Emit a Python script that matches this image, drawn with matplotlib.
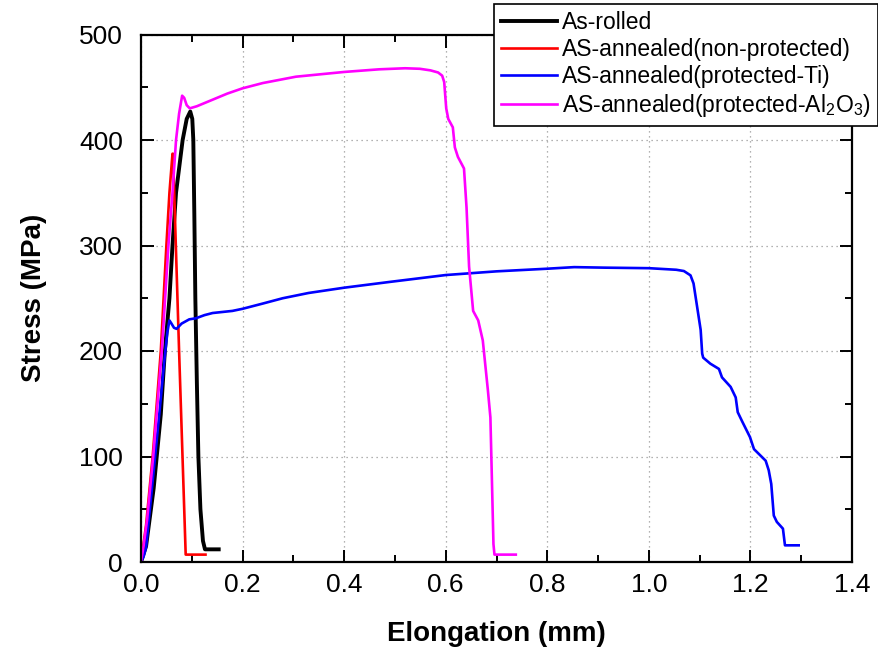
import matplotlib
matplotlib.use("Agg")
import matplotlib.pyplot as plt
from matplotlib.ticker import MultipleLocator

plt.rcParams['font.family'] = ['Liberation Sans', 'DejaVu Sans']
plt.rcParams['mathtext.fontset'] = 'custom'
plt.rcParams['mathtext.rm'] = 'Liberation Sans'

# ---- data ----
labels = ["As-rolled", "AS-annealed(non-protected)", "AS-annealed(protected-Ti)",
          r"AS-annealed(protected-Al$_\mathregular{2}$O$_\mathregular{3}$)"]
colors = ["#000000", "#ff0000", "#0000ff", "#ff00ff"]

rolled_x = [0, 0.010, 0.025, 0.039, 0.047, 0.056, 0.062, 0.069, 0.082, 0.090, 0.097,
            0.101, 0.103, 0.105, 0.107, 0.110, 0.113, 0.117, 0.122, 0.126, 0.153]
rolled_y = [0, 15, 70, 140, 200, 250, 300, 350, 400, 420, 427,
            420, 400, 330, 250, 170, 100, 50, 20, 12, 12]

nonprot_x = [0, 0.010, 0.023, 0.039, 0.050, 0.056, 0.062, 0.063, 0.075, 0.088, 0.127]
nonprot_y = [0, 35, 100, 200, 300, 350, 387, 387, 200, 7, 7]

ti_x = [0, 0.005, 0.010, 0.023, 0.036, 0.046, 0.052, 0.056, 0.060, 0.065, 0.070,
        0.080, 0.095, 0.108, 0.125, 0.141, 0.180, 0.200, 0.240, 0.279, 0.330,
        0.400, 0.490, 0.600, 0.700, 0.800, 0.853, 0.913, 1.000, 1.054, 1.069,
        1.082, 1.088, 1.095, 1.102, 1.105, 1.107, 1.121, 1.138, 1.144, 1.161,
        1.171, 1.175, 1.184, 1.199, 1.207, 1.230, 1.236, 1.241, 1.246, 1.252,
        1.264, 1.268, 1.295]
ti_y = [0, 5, 14, 77, 140, 191, 218, 229, 226, 222, 221,
        226, 230, 231, 234, 236, 238, 240, 245, 250, 255,
        260, 265.5, 272, 275.5, 278, 279.5, 279, 278.5, 277, 275.8,
        271.7, 264, 242, 220, 197.5, 193.7, 188, 183, 175, 166,
        156, 142, 133, 118.5, 107, 96, 87, 74, 44, 38,
        31.6, 15.8, 15.8]

al_x = [0, 0.005, 0.012, 0.024, 0.041, 0.054, 0.062, 0.069, 0.075, 0.081, 0.085,
        0.090, 0.096, 0.110, 0.135, 0.170, 0.200, 0.240, 0.305, 0.400, 0.469,
        0.520, 0.549, 0.570, 0.585, 0.593, 0.597, 0.601, 0.605, 0.614, 0.618,
        0.624, 0.636, 0.641, 0.646, 0.654, 0.664, 0.673, 0.683, 0.688, 0.694,
        0.696, 0.738]
al_y = [0, 15, 40, 100, 200, 300, 350, 400, 425, 442, 440,
        433, 430, 432, 437, 444, 449, 454, 460, 464.5, 467,
        468, 467.5, 466, 464, 461, 455, 430, 420, 412, 393,
        384, 373, 336, 280, 238, 229, 210, 163, 137, 17,
        7, 7]

xticks = [0.0, 0.2, 0.4, 0.6, 0.8, 1.0, 1.2, 1.4]
yticks = [0, 100, 200, 300, 400, 500]

# ---- figure ----
fig = plt.figure(figsize=(8.79, 6.52), dpi=100)
ax = fig.add_axes([141/879, 1-562/652, (852-141)/879, (562-34.5)/652])

series = [(rolled_x, rolled_y), (nonprot_x, nonprot_y), (ti_x, ti_y), (al_x, al_y)]
widths = [2.8, 1.9, 1.9, 1.9]
for (xs, ys), lab, c, w in zip(series, labels, colors, widths):
    ax.plot(xs, ys, color=c, lw=w, label=lab, solid_joinstyle='round')

ax.set_xlim(-0.0, 1.4)
ax.set_ylim(0, 500)
ax.set_xticks(xticks)
ax.set_xticklabels([f"{v:.1f}" for v in xticks])
ax.set_yticks(yticks)
ax.xaxis.set_minor_locator(MultipleLocator(0.1))
ax.yaxis.set_minor_locator(MultipleLocator(50))
ax.tick_params(which='both', direction='in', top=True, right=True, labelsize=19, width=1.4)
ax.tick_params(which='major', length=9)
ax.tick_params(axis='x', which='major', pad=8)
ax.tick_params(axis='y', which='major', pad=13)
ax.tick_params(which='minor', length=5)
for s in ax.spines.values():
    s.set_linewidth(1.6)
ax.grid(True, which='major', linestyle=(0, (1, 3)), color='#999999', lw=0.9)

ax.set_xlabel("Elongation (mm)", fontsize=20, fontweight='bold', labelpad=17)
ax.set_ylabel("Stress (MPa)", fontsize=20, fontweight='bold', labelpad=23)

leg = fig.legend(loc='upper right', bbox_to_anchor=(878/879, 1-4/652), fontsize=16.5,
                 frameon=True, fancybox=False, edgecolor='black', framealpha=1,
                 handlelength=2.45, handletextpad=0.25, labelspacing=0.18, borderpad=0.3,
                 borderaxespad=0)
leg.get_frame().set_linewidth(1.2)

fig.savefig("out.png", dpi=100)
